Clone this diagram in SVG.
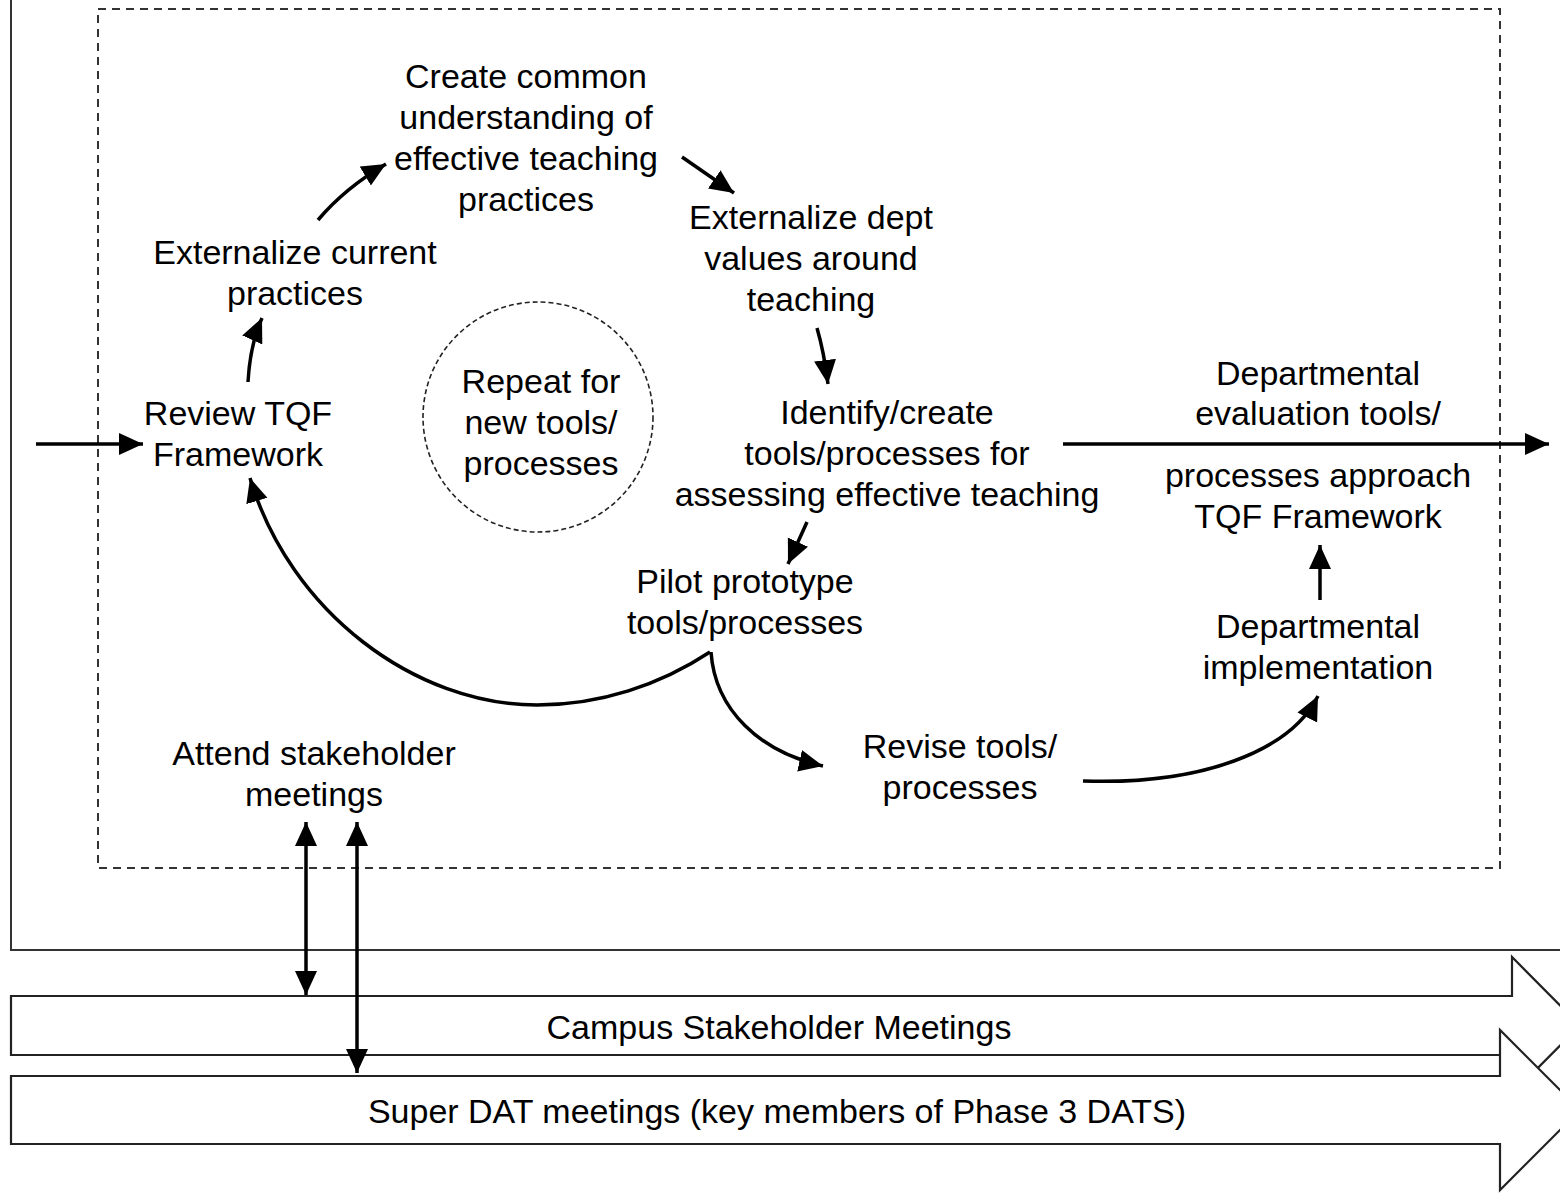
<svg xmlns="http://www.w3.org/2000/svg" width="1560" height="1195" viewBox="0 0 1560 1195">
<style>
text{font-family:"Liberation Sans",Arial,Helvetica,sans-serif;font-size:34px;fill:#000;text-anchor:middle}
.c{fill:none;stroke:#000;stroke-width:3.5}
.frame{fill:none;stroke:#333;stroke-width:2}
.band{fill:#fff;stroke:#222;stroke-width:2.2}
</style>
<defs>
<marker id="ah" markerUnits="userSpaceOnUse" markerWidth="26" markerHeight="24" refX="24" refY="11" orient="auto" viewBox="0 0 26 24">
<path d="M0,0 L24,11 L0,22 z" fill="#000"/>
</marker>
<marker id="ahs" markerUnits="userSpaceOnUse" markerWidth="26" markerHeight="24" refX="24" refY="11" orient="auto-start-reverse" viewBox="0 0 26 24">
<path d="M0,0 L24,11 L0,22 z" fill="#000"/>
</marker>
</defs>
<rect width="1560" height="1195" fill="#fff"/>
<g id="frame">
<path class="frame" d="M11,0 L11,950 L1562,950"/>
<rect x="98" y="9" width="1402" height="859" fill="none" stroke="#333" stroke-width="2" stroke-dasharray="8,6"/>
</g>
<g id="band-campus">
<polygon class="band" points="11,996 1512,996 1512,957 1580,1025.5 1512,1094 1512,1055 11,1055"/>
<text x="779" y="1039">Campus Stakeholder Meetings</text>
</g>
<g id="band-superdat">
<polygon class="band" points="11,1076 1500,1076 1500,1030 1580,1110 1500,1190 1500,1144 11,1144"/>
<text x="777" y="1123">Super DAT meetings (key members of Phase 3 DATS)</text>
</g>
<g id="repeat">
<circle cx="538" cy="417" r="115" fill="none" stroke="#222" stroke-width="1.6" stroke-dasharray="5,3"/>
<text x="541" y="393">Repeat for</text>
<text x="541" y="434">new tools/</text>
<text x="541" y="475">processes</text>
</g>
<g id="create-common">
<text x="526" y="88">Create common</text>
<text x="526" y="129">understanding of</text>
<text x="526" y="170">effective teaching</text>
<text x="526" y="211">practices</text>
</g>
<g id="externalize-current">
<text x="295" y="264">Externalize current</text>
<text x="295" y="305">practices</text>
</g>
<g id="externalize-dept">
<text x="811" y="229">Externalize dept</text>
<text x="811" y="270">values around</text>
<text x="811" y="311">teaching</text>
</g>
<g id="review-tqf">
<text x="238" y="425">Review TQF</text>
<text x="238" y="466">Framework</text>
</g>
<g id="identify">
<text x="887" y="424">Identify/create</text>
<text x="887" y="465">tools/processes for</text>
<text x="887" y="506">assessing effective teaching</text>
</g>
<g id="dept-eval">
<text x="1318" y="385">Departmental</text>
<text x="1318" y="425">evaluation tools/</text>
<text x="1318" y="487">processes approach</text>
<text x="1318" y="528">TQF Framework</text>
</g>
<g id="pilot">
<text x="745" y="593">Pilot prototype</text>
<text x="745" y="634">tools/processes</text>
</g>
<g id="dept-impl">
<text x="1318" y="638">Departmental</text>
<text x="1318" y="679">implementation</text>
</g>
<g id="attend">
<text x="314" y="765">Attend stakeholder</text>
<text x="314" y="806">meetings</text>
</g>
<g id="revise">
<text x="960" y="758">Revise tools/</text>
<text x="960" y="799">processes</text>
</g>
<g id="connectors">
<path class="c" d="M36,444 L143,444" marker-end="url(#ah)"/>
<path class="c" d="M248,382 Q250,345 262,318" marker-end="url(#ah)"/>
<path class="c" d="M318,220 Q345,188 386,164" marker-end="url(#ah)"/>
<path class="c" d="M682,157 L734,193" marker-end="url(#ah)"/>
<path class="c" d="M817,328 Q824,352 828,384" marker-end="url(#ah)"/>
<path class="c" d="M807,522 L788,564" marker-end="url(#ah)"/>
<path class="c" d="M710,652 C660,685 600,705 537,705 C415,705 290,612 250,478" marker-end="url(#ah)"/>
<path class="c" d="M711,652 C715,710 760,752 823,766" marker-end="url(#ah)"/>
<path class="c" d="M1083,781 C1200,785 1290,752 1318,696" marker-end="url(#ah)"/>
<path class="c" d="M1320,600 L1320,545" marker-end="url(#ah)"/>
<path class="c" d="M1063,444 L1549,444" marker-end="url(#ah)"/>
<path class="c" d="M306,822 L306,995" marker-start="url(#ahs)" marker-end="url(#ahs)"/>
<path class="c" d="M357,822 L357,1073" marker-start="url(#ahs)" marker-end="url(#ahs)"/>
</g>
</svg>
